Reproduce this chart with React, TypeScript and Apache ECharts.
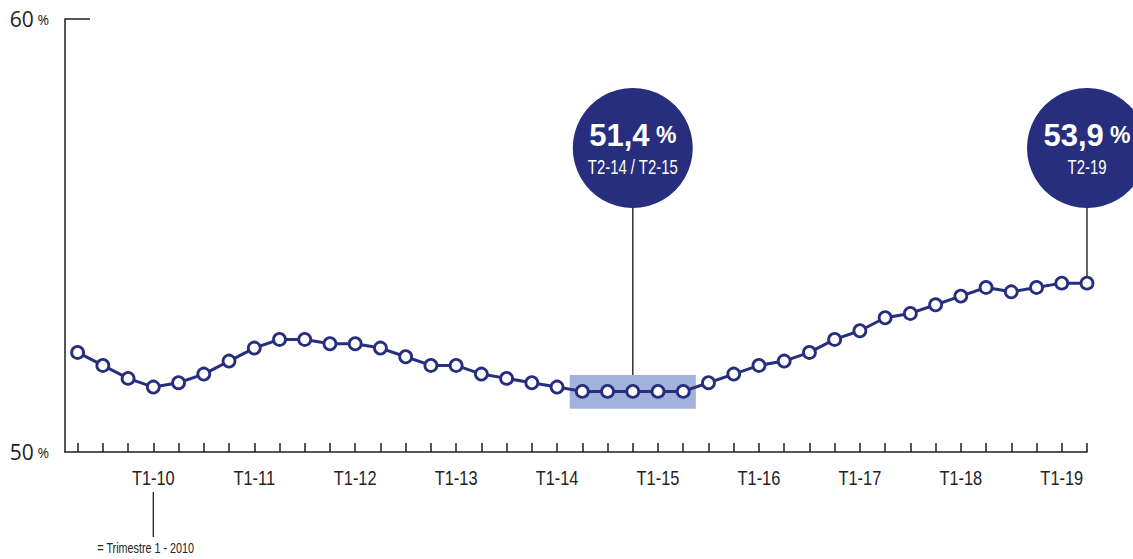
import React, { useEffect, useRef } from "react";
import * as echarts from "echarts";

const quarters = [
  "T2-09", "T3-09", "T4-09",
  "T1-10", "T2-10", "T3-10", "T4-10",
  "T1-11", "T2-11", "T3-11", "T4-11",
  "T1-12", "T2-12", "T3-12", "T4-12",
  "T1-13", "T2-13", "T3-13", "T4-13",
  "T1-14", "T2-14", "T3-14", "T4-14",
  "T1-15", "T2-15", "T3-15", "T4-15",
  "T1-16", "T2-16", "T3-16", "T4-16",
  "T1-17", "T2-17", "T3-17", "T4-17",
  "T1-18", "T2-18", "T3-18", "T4-18",
  "T1-19", "T2-19",
];

const values = [
  52.3, 52.0, 51.7, 51.5, 51.6, 51.8, 52.1, 52.4, 52.6, 52.6,
  52.5, 52.5, 52.4, 52.2, 52.0, 52.0, 51.8, 51.7, 51.6, 51.5,
  51.4, 51.4, 51.4, 51.4, 51.4, 51.6, 51.8, 52.0, 52.1, 52.3,
  52.6, 52.8, 53.1, 53.2, 53.4, 53.6, 53.8, 53.7, 53.8, 53.9, 53.9,
];

const yTicks = [50, 60];
const highlightFrom = "T2-14";
const highlightTo = "T2-15";
const annotationValues = ["51,4", "53,9"];
const annotationPeriods = ["T2-14 / T2-15", "T2-19"];
const annotationFrom = ["T2-14", "T2-19"];
const annotationTo = ["T2-15", "T2-19"];
const footnote = "= Trimestre 1 - 2010";
const footnoteAt = "T1-10";

const NAVY = "#262e7d";
const INK = "#1e1e1e";
const SANS = "'Liberation Sans', Arial, sans-serif";

export default function App() {
  const ref = useRef<HTMLDivElement>(null);

  useEffect(() => {
    document.body.style.margin = "0";
    const chart = echarts.init(ref.current!, null, { renderer: "svg" });

    const data = values.map((v, i) => [i, v]);
    const labelIdx = quarters.map((q, i) => (q.startsWith("T1-") ? i : -1)).filter((i) => i >= 0);
    const tickIdx = quarters.map((_, i) => i);
    const hFrom = quarters.indexOf(highlightFrom);
    const hTo = quarters.indexOf(highlightTo);
    const hMin = Math.min(...values.slice(hFrom, hTo + 1));

    chart.setOption({
      animation: false,
      grid: { left: 65, right: 46, top: 19, bottom: 107, outerBoundsMode: "none", containLabel: false },
      xAxis: {
        type: "value",
        min: -0.5,
        max: quarters.length - 1,
        splitLine: { show: false },
        axisLine: { show: true, onZero: false, lineStyle: { color: INK, width: 1.5 } },
        axisTick: {
          show: true,
          inside: true,
          length: 9,
          customValues: tickIdx,
          lineStyle: { color: INK, width: 1.5 },
        },
        axisLabel: { show: false },
      },
      yAxis: {
        type: "value",
        min: 50,
        max: 60,
        interval: 10,
        splitLine: { show: false },
        axisLine: { show: true, onZero: false, lineStyle: { color: INK, width: 1.5 } },
        axisTick: {
          show: true,
          inside: true,
          length: 25,
          customValues: [yTicks[1]],
          lineStyle: { color: INK, width: 1.5 },
        },
        axisLabel: {
          margin: 16,
          formatter: (v: number) => `{a|${v}}{b| %}`,
          rich: {
            a: { fontSize: 21, color: "#222", fontFamily: "'Open Sans', sans-serif" },
            b: { fontSize: 14, color: "#222", fontFamily: "'Open Sans', sans-serif" },
          },
        },
      },
      series: [
        {
          type: "line",
          data,
          symbol: "circle",
          symbolSize: 12,
          z: 5,
          lineStyle: { color: NAVY, width: 3 },
          itemStyle: { color: "#ffffff", borderColor: NAVY, borderWidth: 2.8 },
          markArea: {
            silent: true,
            itemStyle: { color: "#a1b3dc" },
            data: [[{ coord: [hFrom - 0.5, 51.0] }, { coord: [hTo + 0.5, hMin + 0.38] }]],
          },
        },
      ],
    });

    const graphics: any[] = [];

    // x-axis labels (condensed)
    labelIdx.forEach((i) => {
      const [lx, ly] = chart.convertToPixel({ gridIndex: 0 }, [i, 50]) as number[];
      graphics.push({
        type: "text",
        x: lx,
        y: ly + 26,
        scaleX: 0.82,
        style: {
          text: quarters[i],
          align: "center",
          verticalAlign: "middle",
          fontSize: 20,
          fill: "#222",
          fontFamily: SANS,
        },
      });
    });

    annotationValues.forEach((val, k) => {
      const a = quarters.indexOf(annotationFrom[k]);
      const b = quarters.indexOf(annotationTo[k]);
      const mid = (a + b) / 2;
      const isRange = a !== b;
      const endVal = isRange ? hMin + 0.38 : values[a];
      const [px, py] = chart.convertToPixel({ gridIndex: 0 }, [mid, endVal]) as number[];
      const cy = 148;
      const r = 60;
      graphics.push({
        type: "line",
        shape: { x1: px, y1: cy + r, x2: px, y2: isRange ? py : py - 6 },
        style: { stroke: "#333", lineWidth: 1.5 },
        z: 1,
      });
      graphics.push({
        type: "circle",
        shape: { cx: px, cy, r },
        style: { fill: NAVY },
        z: 2,
      });
      graphics.push({
        type: "text",
        x: px,
        y: cy - 13,
        z: 3,
        style: {
          text: `{v|${val}}{p| %}`,
          align: "center",
          verticalAlign: "middle",
          rich: {
            v: { fontSize: 31, fontWeight: "bold", fill: "#fff", fontFamily: SANS },
            p: { fontSize: 23, fontWeight: "bold", fill: "#fff", fontFamily: SANS },
          },
        },
      });
      graphics.push({
        type: "text",
        x: px,
        y: cy + 19,
        z: 3,
        scaleX: 0.71,
        style: {
          text: annotationPeriods[k],
          align: "center",
          verticalAlign: "middle",
          fontSize: 21,
          fill: "#fff",
          fontFamily: SANS,
        },
      });
    });

    const fIdx = quarters.indexOf(footnoteAt);
    const [fx, fy] = chart.convertToPixel({ gridIndex: 0 }, [fIdx, 50]) as number[];
    graphics.push({
      type: "line",
      shape: { x1: fx, y1: fy + 40, x2: fx, y2: fy + 85 },
      style: { stroke: INK, lineWidth: 1.3 },
    });
    graphics.push({
      type: "text",
      x: fx - 56,
      y: fy + 97,
      scaleX: 0.77,
      style: {
        text: footnote,
        align: "left",
        verticalAlign: "middle",
        fontSize: 14,
        fill: "#222",
        fontFamily: SANS,
      },
    });

    chart.setOption({ graphic: graphics });

    return () => chart.dispose();
  }, []);

  return <div ref={ref} style={{ width: 1133, height: 559 }} />;
}
